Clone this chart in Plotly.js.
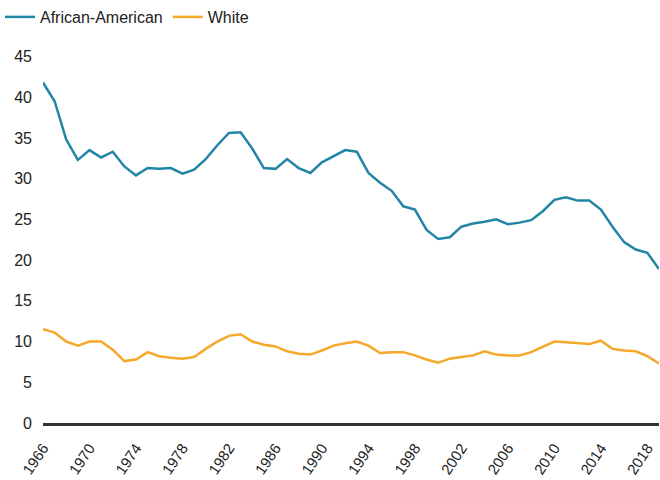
<!DOCTYPE html>
<html>
<head>
<meta charset="utf-8">
<script src="https://cdn.plot.ly/plotly-3.0.1.min.js"></script>
<style>html,body{margin:0;padding:0;background:#fff}#chart{width:660px;height:480px}</style>
</head>
<body>
<div id="chart"></div>
<script>
const years = [];
for (let y = 1966; y <= 2019; y++) years.push(y);
const africanAmerican = [41.8, 39.5, 34.8, 32.3, 33.5, 32.6, 33.3, 31.5, 30.4, 31.3,
  31.2, 31.3, 30.6, 31.1, 32.4, 34.1, 35.6, 35.7, 33.7, 31.3,
  31.2, 32.4, 31.3, 30.7, 32.0, 32.8, 33.5, 33.3, 30.7, 29.5,
  28.5, 26.6, 26.2, 23.7, 22.6, 22.8, 24.1, 24.5, 24.7, 25.0,
  24.4, 24.6, 24.9, 26.0, 27.4, 27.7, 27.3, 27.3, 26.2, 24.1,
  22.2, 21.3, 20.9, 18.9];
const white = [11.5, 11.1, 10.0, 9.5, 10.0, 10.0, 9.0, 7.6, 7.8, 8.7,
  8.2, 8.0, 7.9, 8.1, 9.1, 10.0, 10.7, 10.9, 10.0, 9.6,
  9.4, 8.8, 8.5, 8.4, 8.9, 9.5, 9.8, 10.0, 9.5, 8.6,
  8.7, 8.7, 8.3, 7.8, 7.4, 7.9, 8.1, 8.3, 8.8, 8.4,
  8.3, 8.3, 8.7, 9.4, 10.0, 9.9, 9.8, 9.7, 10.1, 9.1,
  8.9, 8.8, 8.2, 7.3];
const tickYears = [1966, 1970, 1974, 1978, 1982, 1986, 1990, 1994, 1998, 2002, 2006, 2010, 2014, 2018];
const yTicks = [0, 5, 10, 15, 20, 25, 30, 35, 40, 45];

const traces = [
  {x: years, y: africanAmerican, name: 'African-American', type: 'scatter', mode: 'lines',
   line: {color: '#2385a6', width: 2.5}},
  {x: years, y: white, name: 'White', type: 'scatter', mode: 'lines',
   line: {color: '#f5a82a', width: 2.5}}
];
const layout = {
  width: 660, height: 480,
  margin: {l: 43, r: 1, t: 54, b: 57},
  paper_bgcolor: '#fff', plot_bgcolor: '#fff',
  font: {family: 'Liberation Sans, Arial, sans-serif', size: 16, color: '#222'},
  showlegend: true,
  legend: {orientation: 'h', xref: 'container', yref: 'container', x: 0, y: 1, xanchor: 'left', yanchor: 'top',
    font: {size: 16, color: '#222'}, itemwidth: 30, tracegroupgap: 0},
  xaxis: {range: [1966, 2019], tickvals: tickYears, ticktext: tickYears.map(String), tickangle: -56,
    showgrid: false, zeroline: false, showline: true, linecolor: '#333', linewidth: 2.5,
    ticks: '', ticklabelstandoff: 8, ticklabeloverflow: 'allow', tickfont: {size: 15}, fixedrange: true},
  yaxis: {range: [0, 45.3], tickvals: yTicks, showgrid: false, zeroline: false, showline: false,
    ticks: '', ticklabelstandoff: 10, tickfont: {size: 16}, fixedrange: true}
};
Plotly.newPlot('chart', traces, layout, {displayModeBar: false, staticPlot: true});
</script>
</body>
</html>
